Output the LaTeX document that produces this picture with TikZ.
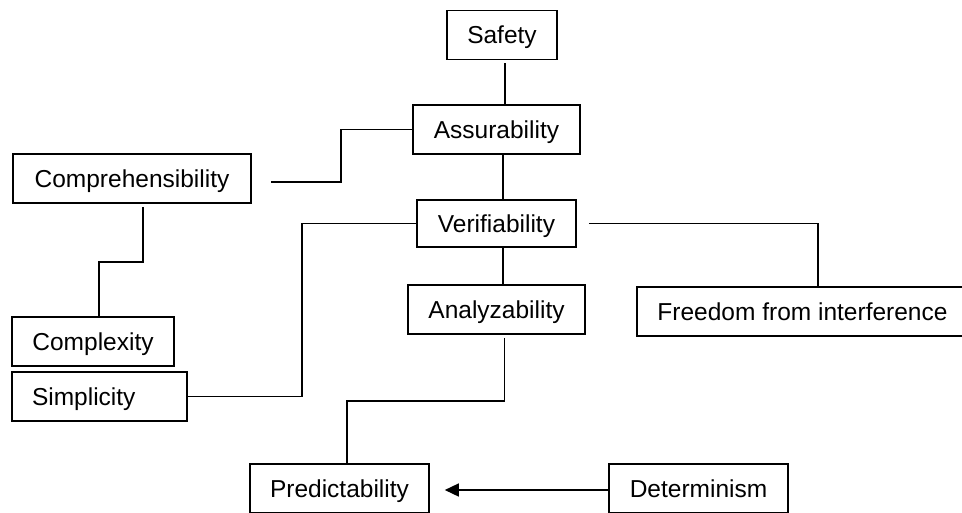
\documentclass[tikz,border=0pt]{standalone}
\usepackage{fontspec}
\setmainfont{Liberation Sans}
\usetikzlibrary{arrows.meta,calc}
\begin{document}
\begin{tikzpicture}[x=1pt,y=-1pt,
  box/.style={draw=black,line width=1.6pt,inner sep=0pt,minimum height=49pt,
    text height=17.5pt,text depth=0pt,
    font=\fontsize{24.5}{28}\selectfont},
  conn/.style={draw=black,line width=1.5pt},
  arr/.style={conn,-{Triangle[length=14pt,width=13pt]}}]
\useasboundingbox (0,0) rectangle (962,512);
\clip (0,0) rectangle (962,512);
\node[box,minimum width=110pt] (saf) at (502,35) {Safety};
\node[box,minimum width=167pt] (ass) at (496.5,129.5) {Assurability};
\node[box,minimum width=238pt] (com) at (132,178.5) {Comprehensibility};
\node[box,minimum width=159pt,minimum height=47pt] (ver) at (496.5,223.5) {Verifiability};
\node[box,minimum width=177pt] (ana) at (496.5,309.5) {Analyzability};
\node[box,minimum width=331pt] (fre) at (802.5,311.5) {Freedom from interference};
\node[box,minimum width=162pt] (cpx) at (93,341.5) {Complexity};
\node[box,text width=135pt,inner xsep=20pt,align=left] (sim) at (99.5,396.5) {Simplicity};
\node[box,minimum width=179pt] (pre) at (339.5,488.5) {Predictability};
\node[box,minimum width=179pt] (det) at (698.5,488.5) {Determinism};
\coordinate (compR) at (271,182);
% connectors
\draw[conn] ($(saf.south)+(3,3)$) -- (ass.north -| 505,0);
\draw[conn] (ass.west) -- (341,129.5) |- (compR);
\draw[conn] (ass.south -| 503,0) -- (ver.north -| 503,0);
\draw[conn] ($(com.south)+(11,3)$) -- (143,262) -| (cpx.north -| 99,0);
\draw[conn] (ver.west) -- (302,223.5) |- (sim.east);
\draw[conn] ($(ver.east)+(12,0)$) -| (fre.north -| 818,0);
\draw[conn] (ver.south -| 503,0) -- (ana.north -| 503,0);
\draw[conn] ($(ana.south)+(8,3)$) -- (504.5,401) -| (pre.north -| 347,0);
\draw[arr] ($(det.west)+(0,1.5)$) -- ($(pre.east)+(15,1.5)$);
\end{tikzpicture}
\end{document}
